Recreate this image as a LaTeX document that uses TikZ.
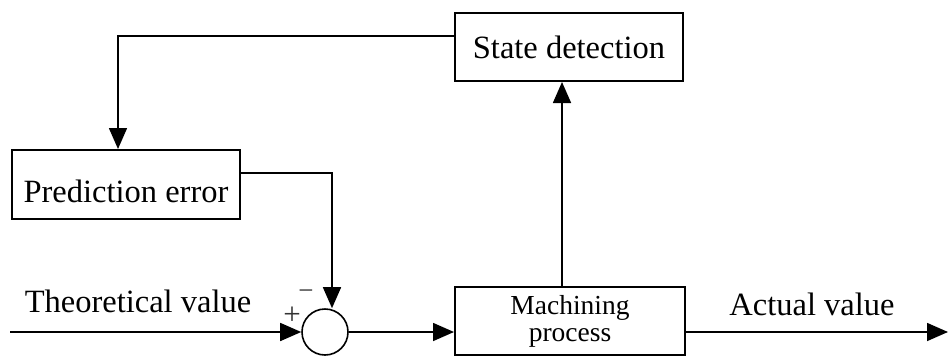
\documentclass[tikz,border=0pt]{standalone}
\usepackage{fontspec}
\setmainfont{Liberation Serif}
\usetikzlibrary{arrows.meta}

\tikzset{
  blockbox/.style={draw, line width=2pt, fill=white, inner sep=0pt,
    minimum width=228pt, minimum height=68pt, font=\fontsize{32.5}{36}\selectfont},
  sumnode/.style={draw, circle, line width=1.6pt, minimum size=46pt, inner sep=0pt},
  sig/.style={line width=1.6pt, -{Triangle[length=21pt,width=18pt]}},
  lbl/.style={font=\fontsize{32.5}{36}\selectfont, inner sep=0pt, anchor=base},
  sgn/.style={inner sep=0pt, text=black!80}
}

\begin{document}
\begin{tikzpicture}[x=1pt,y=-1pt]
	\useasboundingbox (0,0) rectangle (950,356);
	
	% blocks
	\node[blockbox, text height=22pt, text depth=0pt] (detect) at (569,47) {State detection};
	\node[blockbox, minimum height=69pt, text height=35pt, text depth=0pt] (predict) at (126,184.5) {Prediction error};
	\node[blockbox, minimum width=230pt, align=center, font=\fontsize{27.5}{27}\selectfont] (machine) at (570,321) {Machining\\process};
	\node[sgn, font=\fontsize{31}{34}\selectfont] (plus) at (292,316) {+};
	\node[sumnode] (sum) at (325,332) {};
	
	% free ends
	\coordinate (src) at (10,332);
	\coordinate (dst) at (948,332);
	
	% signal lines
	\draw[sig] (src) -- (sum.west);
	\draw[sig] (sum.east) -- (sum.east -| machine.west);
	\draw[sig] (sum.east -| machine.east) -- (dst);
	\draw[sig] ([xshift=-8pt]machine.north) -- ([xshift=-7pt]detect.south);
	\draw[sig] (detect.west |- 0,36) -| ([xshift=-8pt]predict.north);
	\draw[sig] (predict.east |- 0,173) -| ([xshift=7pt]sum.north);
	
	% labels
	\node[lbl] (theo) at (138,312) {Theoretical value};
	\node[lbl] (act) at (812,315) {Actual value};
	\node[sgn, font=\fontsize{27}{30}\selectfont] (minus) at (306,295) {−};
\end{tikzpicture}
\end{document}
